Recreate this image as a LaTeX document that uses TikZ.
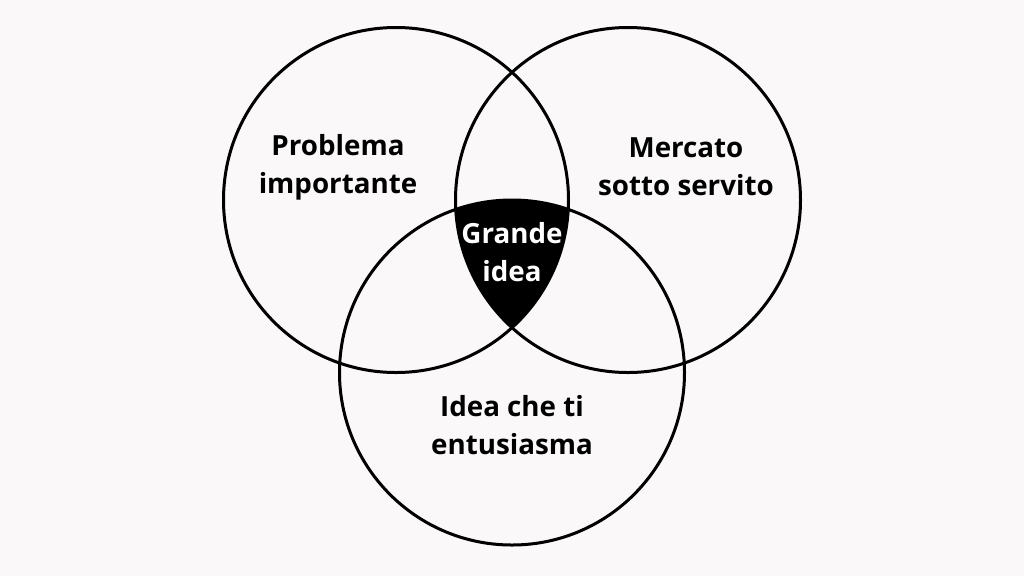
\documentclass[tikz,border=0pt]{standalone}
\usepackage{fontspec}
\setmainfont{Open Sans}
\definecolor{bgcol}{RGB}{250,248,249}
\tikzset{
  vennline/.style={draw=black, line width=2.25pt},
  venntext/.style={font=\fontsize{20.8}{28.5}\selectfont\bfseries, align=center, inner sep=0.75pt}
}

\begin{document}
\begin{tikzpicture}[x=0.75pt,y=0.75pt,yscale=-1,xscale=1]
%Shape: Rectangle (background)
\fill [bgcol] (0,0) rectangle (1024,576) ;
\useasboundingbox (0,0) rectangle (1024,576) ;

%Shape: Intersection of the three circles
\begin{scope}
\clip (396,200) circle [radius=172.5] ;
\clip (628,200) circle [radius=172.5] ;
\fill [black] (512,372.5) circle [radius=172.5] ;
\end{scope}

%Shape: Circle
\draw [vennline] (396,200) circle [radius=172.5] ;
%Shape: Circle
\draw [vennline] (628,200) circle [radius=172.5] ;
%Shape: Circle
\draw [vennline] (512,372.5) circle [radius=172.5] ;

% Text Node
\node [venntext] (problema) at (338,167) {Problema\\importante};
% Text Node
\node [venntext] (mercato) at (686,167) {Mercato\\sotto servito};
% Text Node
\node [venntext, text=white] (grande) at (512,252) {Grande\\idea};
% Text Node
\node [venntext] (entusiasma) at (512,425) {Idea che ti\\entusiasma};

\end{tikzpicture}
\end{document}
